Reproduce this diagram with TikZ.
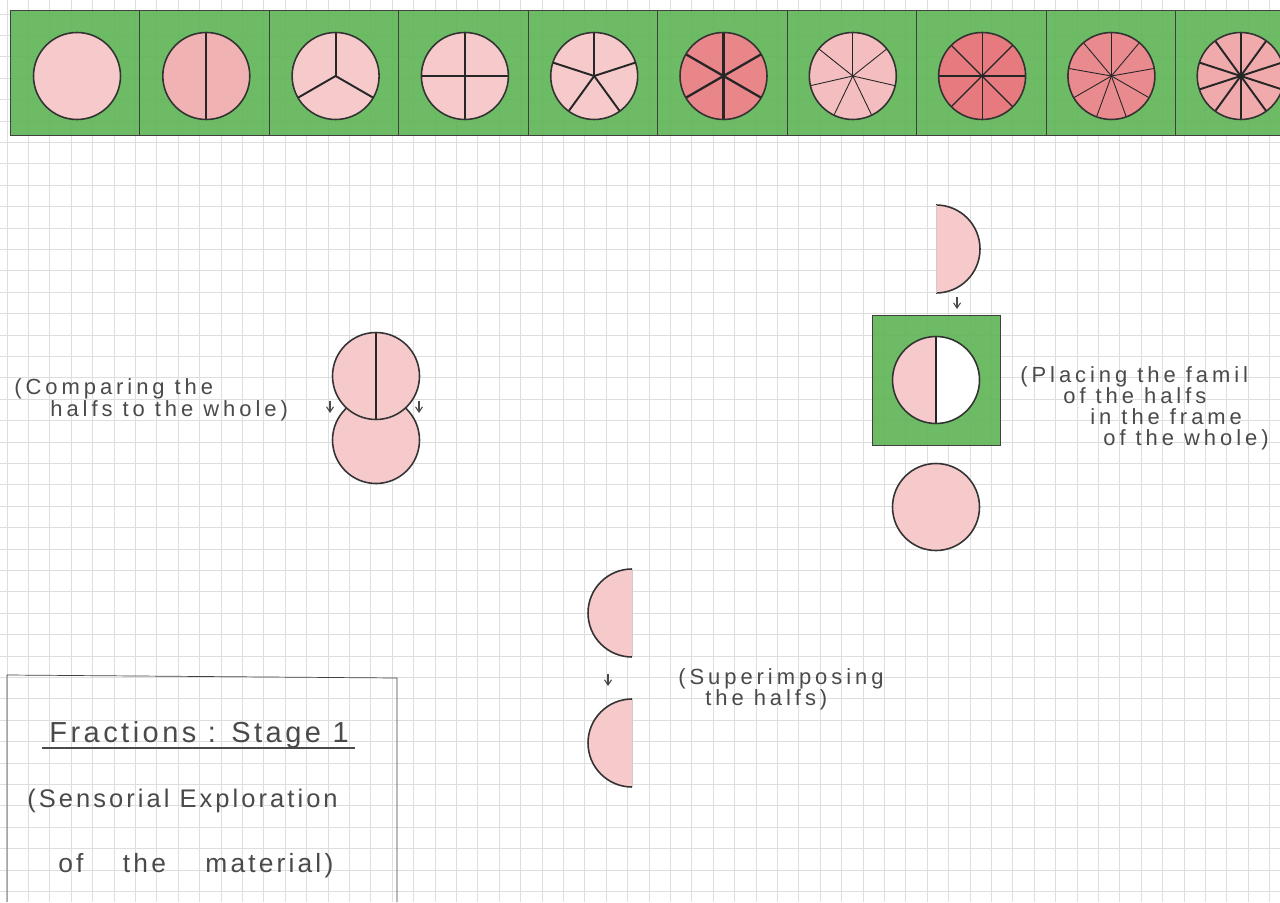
\documentclass[tikz,border=0pt]{standalone}
\usepackage{fontspec}
\setmainfont[LetterSpace=18]{Liberation Sans}
\newfontfamily\titlefont[LetterSpace=12]{Liberation Sans}
\usetikzlibrary{arrows.meta,positioning}
\definecolor{GR}{HTML}{5EB454}
\definecolor{PK}{HTML}{F6CACB}
\definecolor{RD}{HTML}{E67A7E}
\definecolor{GL}{HTML}{DEDEDE}
\definecolor{PN}{HTML}{4A4A4A}
\tikzset{
  hand/.style={anchor=base west, text=PN, inner sep=0pt, font=\fontsize{12.5}{14}\selectfont},
  big/.style={anchor=base west, text=PN, inner sep=0pt},
  rim/.style={draw=black!80, line width=0.9pt},
  cut/.style={black!85},
  dn/.style={-{Straight Barb[length=3pt,width=4pt]}, PN, line width=0.6pt},
}

\begin{document}
\begin{tikzpicture}[x=0.02cm,y=-0.02cm]
\useasboundingbox (0,0) rectangle (1280,902);
\fill[white] (0,0) rectangle (1280,902);
% squared paper
\foreach \k in {0,...,59}{
  \draw[GL, line width=0.4pt] (7+\k*21.4,0) -- (7+\k*21.4,902);
}
\foreach \k in {0,...,41}{
  \draw[GL, line width=0.4pt] (0,14+\k*21.4) -- (1280,14+\k*21.4);
}

% strip of the fraction circles
\fill[GR, fill opacity=0.9] (10,10) rectangle (1280,135);
\draw[black!75] (10,10) -- (1280,10) (10,135) -- (1280,135);
\foreach \k in {0,...,9}{
  \draw[black!75] (10+\k*129.5,10) -- (10+\k*129.5,135);
}
\foreach \n/\f/\w in {1/PK/0.9pt, 2/PK!70!RD/1.1pt, 3/PK/1.1pt, 4/PK/1.1pt,
    5/PK/1.1pt, 6/RD!85!PK/1.3pt, 7/PK!85!RD/0.5pt, 8/RD/0.7pt,
    9/RD!80!PK/0.5pt, 10/PK!60!RD/1.1pt}{
  \pgfmathsetmacro{\cx}{77+(\n-1)*129.3}
  \fill[\f] (\cx,76) circle [radius=0.87cm];
  \ifnum\n>1
    \foreach \j in {1,...,\n}{
      \draw[cut, line width=\w] (\cx,76) -- ++({90+\j*360/\n}:0.87cm);
    }
  \fi
  \draw[rim] (\cx,76) circle [radius=0.87cm];
}

% comparing the halfs to the whole
\fill[PK] (376,440) circle [radius=0.87cm];
\draw[rim] (376,440) circle [radius=0.87cm];
\fill[PK] (376,376) circle [radius=0.87cm];
\draw[cut, line width=0.9pt] (376,332) -- (376,420);
\draw[rim] (376,376) circle [radius=0.87cm];
\coordinate (cL1) at (330,401);
\coordinate (cL2) at (330,413);
\coordinate (cR1) at (419,401);
\coordinate (cR2) at (419,413);
\draw[dn] (cL1) -- (cL2);
\draw[dn] (cR1) -- (cR2);
\node[hand] (cmpA) at (14,394) {(Comparing the};
\node[hand] (cmpB) at (50,416) {halfs to the whole)};

% placing the halfs in the frame
\fill[PK] (936,205) arc[start angle=90, end angle=-90, radius=0.88cm] -- cycle;
\draw[rim] (936,205) arc[start angle=90, end angle=-90, radius=0.88cm];
\draw[PK!60!black!40, line width=0.5pt] (936,205) -- (936,293);
\coordinate (pT1) at (957,297);
\coordinate (pT2) at (957,309);
\draw[dn] (pT1) -- (pT2);
\fill[GR, fill opacity=0.9] (872,315) rectangle (1000,445);
\draw[black!75] (872,315) rectangle (1000,445);
\fill[white] (936,380) circle [radius=0.87cm];
\fill[PK] (936,336.5) arc[start angle=90, end angle=270, radius=0.87cm] -- cycle;
\draw[cut, line width=0.9pt] (936,336.5) -- (936,423.5);
\draw[rim] (936,380) circle [radius=0.87cm];
\fill[PK] (936,507) circle [radius=0.87cm];
\draw[rim] (936,507) circle [radius=0.87cm];
\node[hand] (plcA) at (1020,382) {(Placing the famil};
\node[hand] (plcB) at (1063,403) {of the halfs};
\node[hand] (plcC) at (1090,424) {in the frame};
\node[hand] (plcD) at (1103,445) {of the whole)};

% superimposing the halfs
\fill[PK] (632,569) arc[start angle=90, end angle=270, radius=0.88cm] -- cycle;
\draw[rim] (632,569) arc[start angle=90, end angle=270, radius=0.88cm];
\draw[PK!60!black!40, line width=0.5pt] (632,569) -- (632,657);
\fill[PK] (632,699) arc[start angle=90, end angle=270, radius=0.88cm] -- cycle;
\draw[rim] (632,699) arc[start angle=90, end angle=270, radius=0.88cm];
\draw[PK!60!black!40, line width=0.5pt] (632,699) -- (632,787);
\coordinate (sT1) at (608,674);
\coordinate (sT2) at (608,686);
\draw[dn] (sT1) -- (sT2);
\node[hand] (supA) at (678,684) {(Superimposing};
\node[hand] (supB) at (705,705) {the halfs)};

% title box
\draw[black!75] (7,902) -- (7,675) -- (397,678) -- (397,902);
\node[big, font=\titlefont\fontsize{16.5}{19}\selectfont] (ttl) at (49,742) {Fractions : Stage 1};
\draw[PN, line width=0.7pt] (42,748) -- (355,748);
\node[big, font=\titlefont\fontsize{14.5}{17}\selectfont] (subA) at (27,807) {(Sensorial Exploration};
\node[big, font=\titlefont\fontsize{15}{18}\selectfont] (subB) at (58,872) {of\hspace{1.5em}the\hspace{1.5em}material)};
\end{tikzpicture}
\end{document}
